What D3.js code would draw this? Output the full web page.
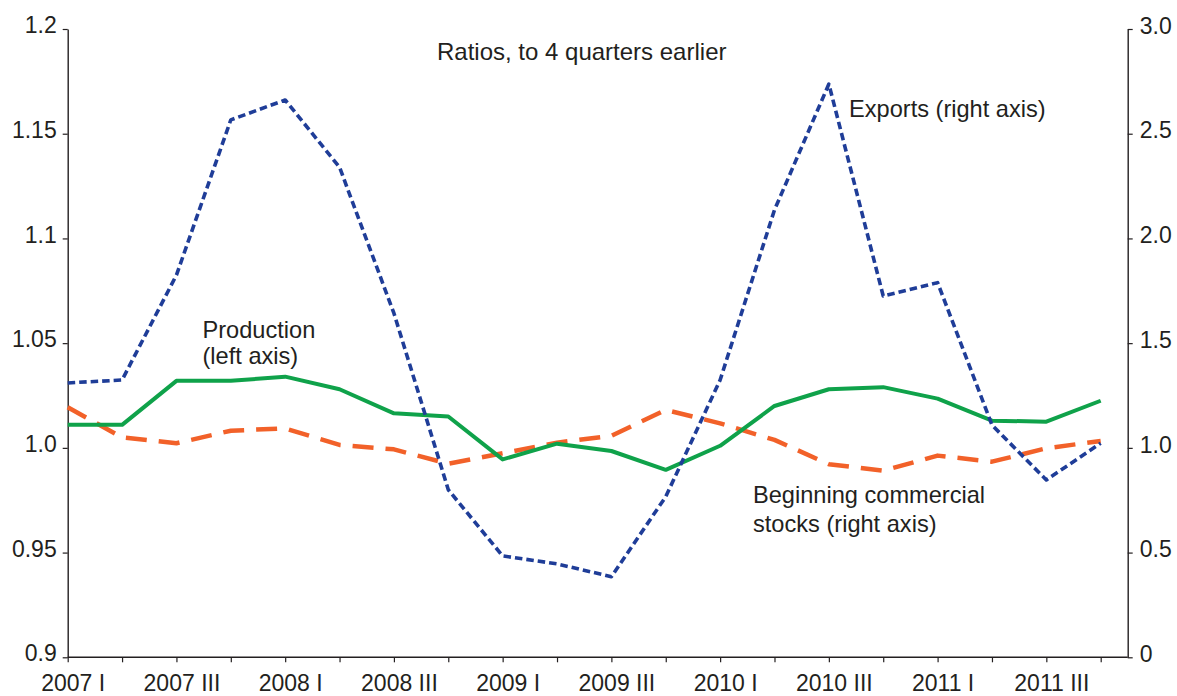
<!DOCTYPE html>
<html>
<head>
<meta charset="utf-8">
<script src="https://cdnjs.cloudflare.com/ajax/libs/d3/7.8.5/d3.min.js"></script>
<style>
  html, body { margin: 0; padding: 0; background: #fff; }
  svg { display: block; }
  text { font-family: "Liberation Sans", Arial, Helvetica, sans-serif; fill: #231f20; }
</style>
</head>
<body>
<svg id="chart" width="1177" height="696"></svg>
<script>
// ---- data ----
const quarters = [
  "2007 I","2007 II","2007 III","2007 IV",
  "2008 I","2008 II","2008 III","2008 IV",
  "2009 I","2009 II","2009 III","2009 IV",
  "2010 I","2010 II","2010 III","2010 IV",
  "2011 I","2011 II","2011 III","2011 IV"
];
const labelledQuarters = ["2007 I","2007 III","2008 I","2008 III","2009 I","2009 III","2010 I","2010 III","2011 I","2011 III"];

// Production, left axis
const production = [1.011, 1.011, 1.032, 1.032, 1.034, 1.028, 1.0165, 1.015,
                    0.9945, 1.002, 0.9985, 0.9895, 1.001, 1.020, 1.028, 1.029,
                    1.0235, 1.013, 1.0125, 1.0225];
// Exports, right axis
const exportsR = [1.31, 1.324, 1.825, 2.566, 2.661, 2.34, 1.643, 0.80,
                  0.484, 0.446, 0.385, 0.767, 1.324, 2.136, 2.737, 1.725,
                  1.789, 1.109, 0.847, 1.022];
// Beginning commercial stocks, right axis
const stocks = [1.194, 1.05, 1.022, 1.082, 1.093, 1.014, 0.993, 0.924,
                0.974, 1.025, 1.058, 1.181, 1.117, 1.038, 0.922, 0.891,
                0.963, 0.934, 0.998, 1.033];

const leftTicks = [0.9, 0.95, 1.0, 1.05, 1.1, 1.15, 1.2];
const leftTickLabels = ["0.9", "0.95", "1.0", "1.05", "1.1", "1.15", "1.2"];
const rightTicks = [0, 0.5, 1.0, 1.5, 2.0, 2.5, 3.0];
const rightTickLabels = ["0", "0.5", "1.0", "1.5", "2.0", "2.5", "3.0"];

const titleText = "Ratios, to 4 quarters earlier";

// ---- layout ----
const svg = d3.select("#chart");
const L = 67.7, R = 1127.7, T = 29, B = 657.3;
const xFirst = 67.7, xLast = 1100.7;
const ink = "#231f20";
const fontTicks = 23;
const fontNotes = 23.6;

const x = d3.scalePoint().domain(quarters).range([xFirst, xLast]).padding(0);
const yL = d3.scaleLinear().domain([0.9, 1.2]).range([B, T]);
const yR = d3.scaleLinear().domain([0, 3.0]).range([B, T]);

// axes
const xAxis = d3.axisBottom(x)
  .tickSizeInner(5).tickSizeOuter(0).tickPadding(12.3)
  .tickFormat(d => labelledQuarters.includes(d) ? d : "");
const gx = svg.append("g").attr("transform", `translate(0,${B})`).call(xAxis);
gx.select(".domain").remove();
gx.append("line").attr("x1", L).attr("x2", R).attr("y1", 0).attr("y2", 0)
  .attr("stroke", ink).attr("stroke-width", 1.4);
gx.selectAll(".tick line").attr("stroke", ink).attr("stroke-width", 1.2);
gx.selectAll(".tick text").attr("font-size", fontTicks).attr("fill", ink)
  .attr("dx", 5).attr("dy", "0.72em");

const yAxisL = d3.axisLeft(yL).tickValues(leftTicks)
  .tickFormat((d, i) => leftTickLabels[i])
  .tickSizeInner(5).tickSizeOuter(0).tickPadding(6);
const gl = svg.append("g").attr("transform", `translate(${L},0)`).call(yAxisL);
gl.select(".domain").attr("stroke", ink).attr("stroke-width", 1.4);
gl.selectAll(".tick line").attr("stroke", ink).attr("stroke-width", 1.2);
gl.selectAll(".tick text").attr("font-size", fontTicks).attr("fill", ink).attr("dy", "0.16em");

const yAxisR = d3.axisRight(yR).tickValues(rightTicks)
  .tickFormat((d, i) => rightTickLabels[i])
  .tickSizeInner(5).tickSizeOuter(0).tickPadding(7);
const gr = svg.append("g").attr("transform", `translate(${R},0)`).call(yAxisR);
gr.select(".domain").attr("stroke", ink).attr("stroke-width", 1.4);
gr.selectAll(".tick line").attr("stroke", ink).attr("stroke-width", 1.2);
gr.selectAll(".tick text").attr("font-size", fontTicks).attr("fill", ink).attr("dy", "0.18em");

// lines
const lineL = d3.line().x((d, i) => x(quarters[i])).y(d => yL(d));
const lineR = d3.line().x((d, i) => x(quarters[i])).y(d => yR(d));

svg.append("path").datum(stocks).attr("d", lineR)
  .attr("fill", "none").attr("stroke", "#f26129").attr("stroke-width", 4.5)
  .attr("stroke-dasharray", "21,12").attr("stroke-linejoin", "round");

svg.append("path").datum(production).attr("d", lineL)
  .attr("fill", "none").attr("stroke", "#0fa24a").attr("stroke-width", 4)
  .attr("stroke-linejoin", "round");

svg.append("path").datum(exportsR).attr("d", lineR)
  .attr("fill", "none").attr("stroke", "#1f3d98").attr("stroke-width", 3.6)
  .attr("stroke-dasharray", "7.5,4").attr("stroke-linejoin", "round");

// annotations
svg.append("text").attr("x", 437).attr("y", 60).attr("font-size", 24).text(titleText);

svg.append("text").attr("x", 849).attr("y", 116.5).attr("font-size", fontNotes).text("Exports (right axis)");

const prod = svg.append("text").attr("font-size", fontNotes);
prod.append("tspan").attr("x", 202.5).attr("y", 338).text("Production");
prod.append("tspan").attr("x", 202.5).attr("y", 363.5).text("(left axis)");

const stk = svg.append("text").attr("font-size", fontNotes);
stk.append("tspan").attr("x", 753).attr("y", 503).text("Beginning commercial");
stk.append("tspan").attr("x", 753).attr("y", 532).text("stocks (right axis)");
</script>
</body>
</html>
